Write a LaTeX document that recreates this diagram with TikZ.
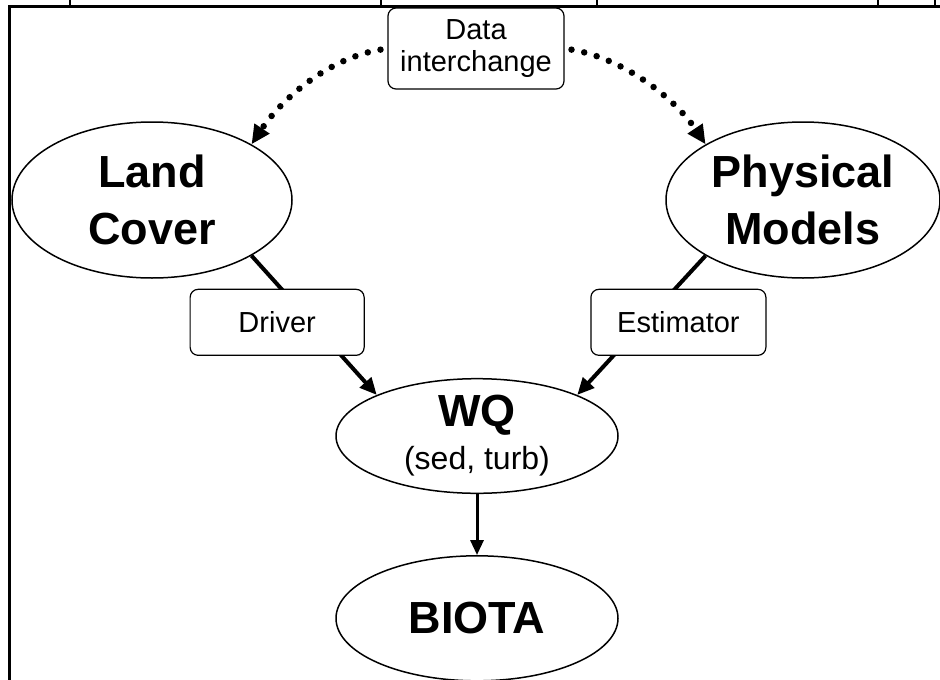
\documentclass[tikz,border=0pt]{standalone}
\usepackage{fontspec}
\setmainfont{Liberation Sans}
\usetikzlibrary{
  shapes.geometric,
  arrows.meta,
  positioning
}
\tikzset{
  bigoval/.style={
    ellipse, draw=black, line width=1.5pt,
    inner sep=0pt, align=center,
    font=\fontsize{45}{57}\selectfont\bfseries
  },
  labelbox/.style={
    draw=black, fill=white, line width=1.2pt,
    rounded corners=8pt, minimum width=174pt,
    minimum height=66pt, align=center,
    font=\fontsize{29}{32}\selectfont
  },
  mainarrow/.style={
    -{Triangle[length=17pt,width=15pt]},
    draw=black, line width=4pt
  },
  thinarrow/.style={
    -{Triangle[length=15pt,width=13pt]},
    draw=black, line width=3pt
  },
  dotarrow/.style={
    -{Triangle[length=19pt,width=17pt]},
    draw=black, line width=6.5pt, line cap=round,
    dash pattern=on 0pt off 13pt, shorten <=7pt
  },
  frameline/.style={line width=3pt},
  tickline/.style={line width=1.5pt},
}

\begin{document}
\begin{tikzpicture}[x=1pt, y=-1pt]

  \useasboundingbox (0,0) rectangle (940,680);

  %% frame of the cut-out figure
  \draw[frameline] (9.5,680) -- (9.5,6) -- (940,6);
  \foreach \tx in {70,381,597,878,935}
    \draw[tickline] (\tx,0) -- (\tx,6);

  %% sources
  \node[bigoval, minimum width=280pt, minimum height=156pt] (lc) at (152,200)
    {Land\\Cover};
  \node[bigoval, minimum width=274pt, minimum height=156pt] (pm) at (803,200)
    {Physical\\Models};
  \node[labelbox, minimum width=176pt, minimum height=81pt] (dat) at (476,48.5)
    {Data\\interchange};

  %% water quality and biota
  \node[bigoval, minimum width=282pt, minimum height=111pt] (wq) at (477,436)
    {WQ\\[-14pt]{\fontsize{32}{34}\selectfont\mdseries (sed, turb)}};
  \node[bigoval, minimum width=282pt, minimum height=125pt, below=61pt of wq] (bio)
    {BIOTA};

  \draw[mainarrow] (lc.south east) -- (wq.north west)
    node[labelbox, midway, xshift=-37pt, yshift=3pt] (drv) {Driver};
  \draw[mainarrow] (pm.south west) -- (wq.north east)
    node[labelbox, midway, xshift=37pt, yshift=3pt, minimum width=175pt] (est) {Estimator};
  \draw[thinarrow] (wq) -- (bio);

  %% interchange
  \draw[dotarrow] (dat.west) .. controls +(-60,10) and +(30,-45) .. (lc.north east);
  \draw[dotarrow] (dat.east) .. controls +(60,10) and +(-30,-45) .. (pm.north west);

\end{tikzpicture}
\end{document}
